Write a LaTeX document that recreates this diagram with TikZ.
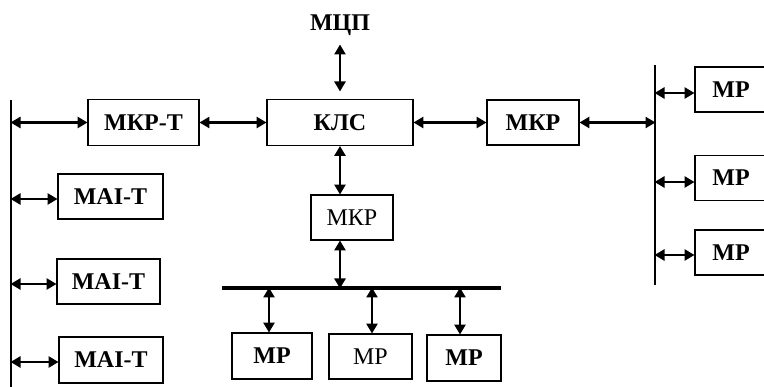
\documentclass[tikz,border=0pt]{standalone}
\usepackage{fontspec}
\setmainfont{Liberation Serif}
\usetikzlibrary{arrows.meta}
\tikzset{
  box/.style={draw, line width=1.9pt, inner sep=0pt, font=\fontsize{24}{26}\selectfont\bfseries},
  rbox/.style={box, font=\fontsize{24}{26}\selectfont},
  arr/.style={line width=2.6pt, {Triangle[length=10pt,width=11pt]}-{Triangle[length=10pt,width=11pt]}, shorten <=-0.5pt, shorten >=-0.5pt},
  vbus/.style={line width=2.6pt},
  hbus/.style={line width=3.8pt},
}
\begin{document}
\begin{tikzpicture}[x=1pt,y=-1pt]
\useasboundingbox (0,0) rectangle (764,387);
\clip (0,0) rectangle (764,387);
% nodes
\node[box, minimum width=111pt, minimum height=46pt] (mkpt) at (143.5,122.5) {МКР-Т};
\node[box, minimum width=146pt, minimum height=46pt] (kls) at (340,122.5) {КЛС};
\node[box, minimum width=92pt, minimum height=45pt] (mkp) at (533,122.5) {МКР};
\node[rbox, minimum width=82pt, minimum height=45pt] (mkps) at (352,217.5) {МКР};
\node[font=\fontsize{24}{26}\selectfont\bfseries] (mcp) at (340,25) {МЦП};
\node[box, minimum width=105pt, minimum height=45pt] (mai1) at (110.5,196.5) {МАІ-Т};
\node[box, minimum width=103pt, minimum height=45pt] (mai2) at (108.5,281.5) {МАІ-Т};
\node[box, minimum width=104pt, minimum height=46pt] (mai3) at (111,360) {МАІ-Т};
\node[box, minimum width=72pt, minimum height=45pt] (rmp1) at (731,89.5) {МР};
\node[box, minimum width=72pt, minimum height=45pt] (rmp2) at (731,178) {МР};
\node[box, minimum width=72pt, minimum height=45pt] (rmp3) at (731,252.5) {МР};
\node[box, minimum width=80pt, minimum height=46pt] (bmp1) at (272,356) {МР};
\node[rbox, minimum width=83pt, minimum height=45pt] (bmp2) at (370.5,356.5) {МР};
\node[box, minimum width=74pt, minimum height=46pt] (bmp3) at (464,358) {МР};
% buses
\coordinate (lbt) at (11,100);
\coordinate (lbb) at (11,390);
\draw[vbus] (lbt) -- (lbb);
\coordinate (rbt) at (655,65);
\coordinate (rbb) at (655,285);
\draw[vbus] (rbt) -- (rbb);
\coordinate (hbl) at (222,288);
\coordinate (hbr) at (501,288);
\draw[hbus] (hbl) -- (hbr);
% bus taps
\coordinate (l0) at (11,122.5);
\coordinate (l1) at (11,199);
\coordinate (l2) at (11,284);
\coordinate (l3) at (11,362);
\coordinate (r0) at (655,122.5);
\coordinate (r1) at (655,93);
\coordinate (r2) at (655,182);
\coordinate (r3) at (655,255);
\coordinate (h0) at (340,288);
\coordinate (h1) at (269,288);
\coordinate (h2) at (372,288);
\coordinate (h3) at (460,288);
\coordinate (mcpend) at (340,91);
\coordinate (mcptop) at (340,45);
% arrows
\draw[arr] (l0) -- (mkpt.west |- l0);
\draw[arr] (mkpt.east) -- (kls.west);
\draw[arr] (kls.east) -- (mkp.west);
\draw[arr] (mkp.east) -- (r0);
\draw[arr] (mcptop) -- (mcpend);
\draw[arr] (kls.south) -- (kls.south |- mkps.north);
\draw[arr] (mkps.south -| h0) -- (h0);
\draw[arr] (l1) -- (mai1.west |- l1);
\draw[arr] (l2) -- (mai2.west |- l2);
\draw[arr] (l3) -- (mai3.west |- l3);
\draw[arr] (r1) -- (rmp1.west |- r1);
\draw[arr] (r2) -- (rmp2.west |- r2);
\draw[arr] (r3) -- (rmp3.west |- r3);
\draw[arr] (h1) -- (h1 |- bmp1.north);
\draw[arr] (h2) -- (h2 |- bmp2.north);
\draw[arr] (h3) -- (h3 |- bmp3.north);
\end{tikzpicture}
\end{document}
